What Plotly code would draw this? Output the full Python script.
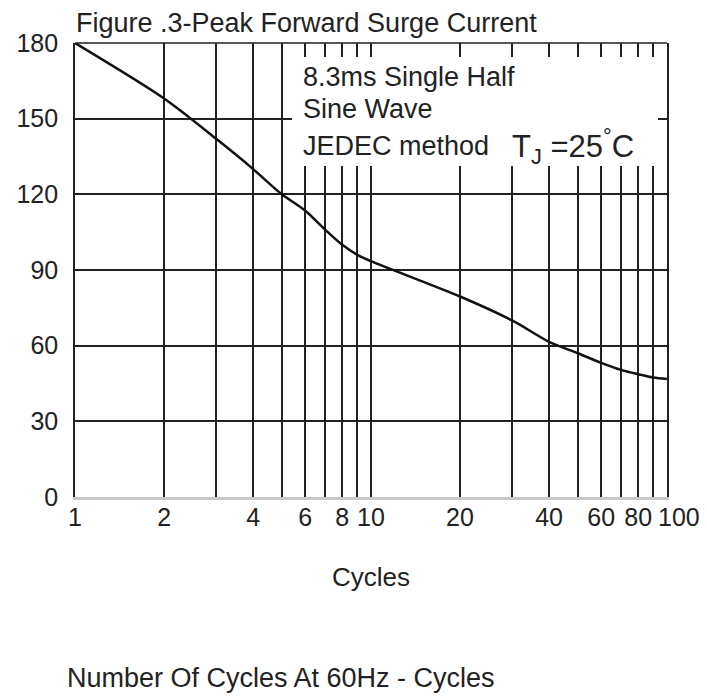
import math
import plotly.graph_objects as go

# ---- data ----
cycles = [1, 2, 3, 4, 5, 6, 7, 8, 9, 10, 20, 30, 40, 50, 60, 70, 80, 90, 100]
surge_current = [180, 158, 142, 130, 120, 113.5, 106, 100, 96, 93.5,
                 79.5, 70, 61.5, 57, 53.2, 50.4, 48.7, 47.4, 46.8]

x_tick_vals = [1, 2, 4, 6, 8, 10, 20, 40, 60, 80, 100]
x_tick_text = ["1", "2", "4", "6", "8", "10", "20", "40", "60", "80", "100"]
x_minor_vals = [3, 5, 7, 9, 30, 50, 70, 90]
y_tick_vals = [0, 30, 60, 90, 120, 150, 180]

title_text = "Figure .3-Peak Forward Surge Current"
x_title = "Cycles"
bottom_text = "Number Of Cycles At 60Hz - Cycles"
box_lines = ["8.3ms Single Half", "Sine Wave", "JEDEC method"]
tj_text = "T<sub>J</sub> =25<sup>°</sup>C"

FONT = "Liberation Sans, Arial, sans-serif"
TXT = "#222222"
GRID = "#222222"
W, H = 707, 697
L, R, T, B = 75, 40, 43, 200
PW, PH = W - L - R, H - T - B

def px(xp):
    return (xp - L) / PW

def py(yp):
    return (H - B - yp) / PH

# the last tick label is drawn as an annotation nudged right (as in the source)
main_ticks = x_tick_vals[:-1]
main_text = x_tick_text[:-1]
last_tick, last_text = x_tick_vals[-1], x_tick_text[-1]

fig = go.Figure()
fig.add_trace(go.Scatter(
    x=cycles, y=surge_current, mode="lines",
    line=dict(color="#111111", width=2.5, shape="spline", smoothing=0.8),
    hoverinfo="x+y", showlegend=False,
))

fig.update_layout(
    width=W, height=H,
    margin=dict(l=L, r=R, t=T, b=B, autoexpand=False),
    paper_bgcolor="white", plot_bgcolor="white",
    font=dict(family=FONT, size=26, color=TXT),
    showlegend=False,
    xaxis=dict(
        type="log", range=[0, 2.0004],
        tickmode="array", tickvals=main_ticks, ticktext=main_text,
        tickangle=0,
        showgrid=True, gridcolor=GRID, gridwidth=1.6,
        minor=dict(tickmode="array", tickvals=x_minor_vals + [last_tick],
                   showgrid=True, gridcolor=GRID, gridwidth=1.6, ticks=""),
        showline=True, linecolor="#c8c8c8", linewidth=3,
        zeroline=False, ticks="", ticklabelstandoff=-4,
        tickfont=dict(size=25, color=TXT, family=FONT),
        title=dict(text=x_title, standoff=38,
                   font=dict(size=26, color=TXT, family=FONT)),
        automargin=False,
    ),
    yaxis=dict(
        range=[0, 180],
        tickmode="array", tickvals=y_tick_vals,
        showgrid=True, gridcolor=GRID, gridwidth=1.6,
        showline=True, linecolor=GRID, linewidth=1.6, mirror=True,
        zeroline=False, ticks="", ticklabelstandoff=10,
        tickfont=dict(size=25, color=TXT, family=FONT),
        automargin=False,
    ),
)

fig.add_annotation(text=last_text, xref="x", yref="paper",
                   x=math.log10(last_tick), y=py(517), xanchor="center",
                   yanchor="middle", xshift=12, showarrow=False,
                   font=dict(size=25, color=TXT, family=FONT))

# top border of plot frame
fig.add_shape(type="line", xref="paper", yref="paper", x0=0, x1=1, y0=1, y1=1,
              line=dict(color=GRID, width=1.6), layer="above")

# white note box that hides the grid behind the notes
fig.add_shape(type="rect", xref="paper", yref="paper",
              x0=px(292), x1=px(658), y0=py(166), y1=py(57),
              fillcolor="white", line=dict(width=0), layer="above")

line_centers = [77, 109, 146]
for txt, yc in zip(box_lines, line_centers):
    fig.add_annotation(text=txt, xref="paper", yref="paper",
                       x=px(301), y=py(yc), xanchor="left", yanchor="middle",
                       showarrow=False, font=dict(size=27, color=TXT, family=FONT))

fig.add_annotation(text=tj_text, xref="paper", yref="paper",
                   x=px(510), y=py(146), xanchor="left", yanchor="middle",
                   showarrow=False, font=dict(size=31, color=TXT, family=FONT))

fig.add_annotation(text=title_text, xref="paper", yref="paper",
                   x=px(74), y=py(23), xanchor="left", yanchor="middle",
                   showarrow=False, font=dict(size=27, color=TXT, family=FONT))

fig.add_annotation(text=bottom_text, xref="paper", yref="paper",
                   x=px(65), y=py(678), xanchor="left", yanchor="middle",
                   showarrow=False, font=dict(size=27, color=TXT, family=FONT))

fig.write_html("out.html")
